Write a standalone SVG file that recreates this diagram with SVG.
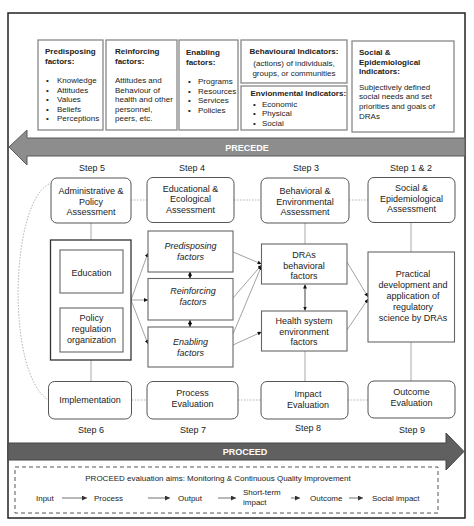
<svg xmlns="http://www.w3.org/2000/svg" width="474" height="526" viewBox="0 0 474 526">
<defs>
<style>
text{font-family:"Liberation Sans",Arial,sans-serif;fill:#222}
.s8{font-size:8px}
.s9{font-size:9px}
.b{font-weight:bold}
.i{font-style:italic}
.m{text-anchor:middle}
.tb{fill:#fff;stroke:#888;stroke-width:1.3}
.rb{fill:#fff;stroke:#555;stroke-width:1}
.fb{fill:#fff;stroke:#666;stroke-width:1.1}
.dl{fill:none;stroke:#aaa;stroke-width:0.9;stroke-dasharray:1.5 1.5}
.gl{fill:none;stroke:#aaa;stroke-width:1}
.al{fill:none;stroke:#999;stroke-width:0.9}
.ar{fill:none;stroke:#111;stroke-width:0.8}
.wt{fill:#fff;font-weight:bold;font-size:9px}
</style>
<marker id="ah" viewBox="0 0 6 6" refX="6" refY="3" markerWidth="4" markerHeight="4" markerUnits="userSpaceOnUse" orient="auto-start-reverse">
<path d="M0,0 L6,3 L0,6 z" fill="#111"/>
</marker>
<marker id="ah2" viewBox="0 0 6 6" refX="6" refY="3" markerWidth="5" markerHeight="5" markerUnits="userSpaceOnUse" orient="auto">
<path d="M0,0 L6,3 L0,6 z" fill="#333"/>
</marker>
</defs>
<rect width="474" height="526" fill="#fff"/>
<rect x="8" y="13" width="457" height="505" fill="#fff" stroke="#222" stroke-width="1.5"/>

<g id="top-predisposing">
<rect class="tb" x="38" y="40" width="65" height="90"/>
<text class="s8 b" x="45" y="54">Predisposing</text>
<text class="s8 b" x="45" y="64">factors:</text>
<text class="s8" x="46" y="83">•</text><text class="s8" x="57" y="83">Knowledge</text>
<text class="s8" x="46" y="92.5">•</text><text class="s8" x="57" y="92.5">Attitudes</text>
<text class="s8" x="46" y="102">•</text><text class="s8" x="57" y="102">Values</text>
<text class="s8" x="46" y="111.5">•</text><text class="s8" x="57" y="111.5">Beliefs</text>
<text class="s8" x="46" y="121">•</text><text class="s8" x="57" y="121">Perceptions</text>
</g>
<g id="top-reinforcing">
<rect class="tb" x="106" y="40" width="71" height="90"/>
<text class="s8 b" x="115" y="54">Reinforcing</text>
<text class="s8 b" x="115" y="64">factors:</text>
<text class="s8" x="115" y="83">Attitudes and</text>
<text class="s8" x="115" y="92.5">Behaviour of</text>
<text class="s8" x="115" y="102">health and other</text>
<text class="s8" x="115" y="111.5">personnel,</text>
<text class="s8" x="115" y="121">peers, etc.</text>
</g>
<g id="top-enabling">
<rect class="tb" x="179" y="40" width="59" height="90"/>
<text class="s8 b" x="186" y="55">Enabling</text>
<text class="s8 b" x="186" y="65">factors:</text>
<text class="s8" x="188" y="84">•</text><text class="s8" x="198" y="84">Programs</text>
<text class="s8" x="188" y="93.5">•</text><text class="s8" x="198" y="93.5">Resources</text>
<text class="s8" x="188" y="103">•</text><text class="s8" x="198" y="103">Services</text>
<text class="s8" x="188" y="112.5">•</text><text class="s8" x="198" y="112.5">Policies</text>
</g>
<g id="top-behavioural">
<rect class="tb" x="241" y="40" width="106" height="43"/>
<text class="s8 b m" x="294" y="53.5">Behavioural Indicators:</text>
<text class="s8 m" x="294" y="66">(actions) of individuals,</text>
<text class="s8 m" x="294" y="75.5">groups, or communities</text>
</g>
<g id="top-environmental">
<rect class="tb" x="241" y="86" width="106" height="44"/>
<text class="s8 b" x="250.5" y="96">Envionmental Indicators:</text>
<text class="s8" x="253" y="106.5">•</text><text class="s8" x="262" y="106.5">Economic</text>
<text class="s8" x="253" y="116">•</text><text class="s8" x="262" y="116">Physical</text>
<text class="s8" x="253" y="125.5">•</text><text class="s8" x="262" y="125.5">Social</text>
</g>
<g id="top-social">
<rect class="tb" x="352" y="41" width="102" height="91"/>
<text class="s8 b" x="359" y="54.5">Social &amp;</text>
<text class="s8 b" x="359" y="64.5">Epidemiological</text>
<text class="s8 b" x="359" y="74">Indicators:</text>
<text class="s8" x="359" y="89.5">Subjectively defined</text>
<text class="s8" x="359" y="99">social needs and set</text>
<text class="s8" x="359" y="108.7">priorities and goals of</text>
<text class="s8" x="359" y="118.5">DRAs</text>
</g>

<g id="precede-arrow">
<polygon points="465,138 27,138 27,130 9,147 27,165 27,156 465,156" fill="#8d8d8d" stroke="#5a5a5a" stroke-width="1"/>
<text class="wt m" x="247" y="150.5">PRECEDE</text>
</g>

<g id="step-labels">
<text class="s9 m" x="92" y="171">Step 5</text>
<text class="s9 m" x="192" y="171">Step 4</text>
<text class="s9 m" x="306" y="170.5">Step 3</text>
<text class="s9 m" x="411" y="170.5">Step 1 &amp; 2</text>
<text class="s9 m" x="91" y="432.5">Step 6</text>
<text class="s9 m" x="193" y="433">Step 7</text>
<text class="s9 m" x="308" y="431">Step 8</text>
<text class="s9 m" x="412" y="433">Step 9</text>
</g>

<g id="connectors">
<line class="dl" x1="131" y1="200" x2="147" y2="200"/>
<line class="dl" x1="234" y1="200" x2="261" y2="200"/>
<line class="dl" x1="349" y1="200" x2="368" y2="200"/>
<line class="dl" x1="132" y1="400" x2="147" y2="400"/>
<line class="dl" x1="238" y1="400" x2="261" y2="400"/>
<line class="dl" x1="348" y1="400" x2="368" y2="400"/>
<path class="dl" d="M49,184 C10,204 6,372 48,400"/>
<line class="gl" x1="91" y1="223" x2="91" y2="240"/>
<line class="gl" x1="91" y1="360" x2="91" y2="382"/>
<line class="gl" x1="305" y1="223" x2="305" y2="244"/>
<line class="gl" x1="411" y1="223" x2="411" y2="252"/>
<line class="gl" x1="305" y1="351" x2="305" y2="381"/>
<line class="gl" x1="411" y1="342" x2="411" y2="381"/>
<line class="al" x1="131" y1="300" x2="148" y2="253" marker-end="url(#ah)"/>
<line class="al" x1="131" y1="300" x2="148" y2="300" marker-end="url(#ah)"/>
<line class="al" x1="131" y1="300" x2="148" y2="344" marker-end="url(#ah)"/>
<line class="al" x1="233" y1="252" x2="261.5" y2="264" marker-end="url(#ah)"/>
<line class="al" x1="233" y1="298" x2="261.5" y2="265" marker-end="url(#ah)"/>
<line class="al" x1="233" y1="334" x2="261.5" y2="266" marker-end="url(#ah)"/>
<line class="al" x1="233" y1="345" x2="261.5" y2="332" marker-end="url(#ah)"/>
<line class="al" x1="347" y1="262" x2="368" y2="297" marker-end="url(#ah)"/>
<line class="al" x1="347" y1="330" x2="368" y2="299" marker-end="url(#ah)"/>
<line class="ar" x1="92" y1="293.5" x2="92" y2="307.5" marker-start="url(#ah)" marker-end="url(#ah)"/>
<line class="ar" x1="190" y1="271.5" x2="190" y2="278.5" marker-start="url(#ah)" marker-end="url(#ah)"/>
<line class="ar" x1="190" y1="320" x2="190" y2="327" marker-start="url(#ah)" marker-end="url(#ah)"/>
<line class="ar" x1="305" y1="284.5" x2="305" y2="310.5" marker-start="url(#ah)" marker-end="url(#ah)"/>
</g>

<g id="admin-assessment">
<rect class="rb" x="51" y="178" width="80" height="45" rx="6"/>
<text class="s9 m" x="91" y="194">Administrative &amp;</text>
<text class="s9 m" x="91" y="204.5">Policy</text>
<text class="s9 m" x="91" y="215">Assessment</text>
</g>
<g id="educational-assessment">
<rect class="rb" x="147" y="177.5" width="87" height="45" rx="6"/>
<text class="s9 m" x="190.5" y="191.5">Educational &amp;</text>
<text class="s9 m" x="190.5" y="202">Ecological</text>
<text class="s9 m" x="190.5" y="213">Assessment</text>
</g>
<g id="behavioral-assessment">
<rect class="rb" x="261" y="178" width="88" height="45" rx="6"/>
<text class="s9 m" x="305" y="194">Behavioral &amp;</text>
<text class="s9 m" x="305" y="204.5">Environmental</text>
<text class="s9 m" x="305" y="215">Assessment</text>
</g>
<g id="social-assessment">
<rect class="rb" x="368" y="177.5" width="87" height="45" rx="6"/>
<text class="s9 m" x="411.5" y="190.5">Social &amp;</text>
<text class="s9 m" x="411.5" y="201.5">Epidemiological</text>
<text class="s9 m" x="411.5" y="212">Assessment</text>
</g>

<g id="education-group">
<rect x="50.5" y="240" width="80.5" height="120" fill="#fff" stroke="#333" stroke-width="1.3"/>
</g>
<g id="education">
<rect class="fb" x="60" y="250" width="63" height="43"/>
<text class="s9 m" x="91.5" y="276">Education</text>
</g>
<g id="policy">
<rect class="fb" x="60" y="308" width="63" height="44"/>
<text class="s9 m" x="91.5" y="321">Policy</text>
<text class="s9 m" x="91.5" y="332">regulation</text>
<text class="s9 m" x="91.5" y="342.5">organization</text>
</g>

<g id="predisposing-factors">
<rect class="fb" x="148" y="231" width="85" height="41"/>
<text class="s9 m i" x="190.5" y="249">Predisposing</text>
<text class="s9 m i" x="190.5" y="260">factors</text>
</g>
<g id="reinforcing-factors">
<rect class="fb" x="148" y="278.5" width="85" height="41.5"/>
<text class="s9 m i" x="193" y="294">Reinforcing</text>
<text class="s9 m i" x="193" y="304.5">factors</text>
</g>
<g id="enabling-factors">
<rect class="fb" x="148" y="327" width="85" height="40"/>
<text class="s9 m i" x="190.5" y="345">Enabling</text>
<text class="s9 m i" x="190.5" y="356">factors</text>
</g>

<g id="dras-behavioral">
<rect class="fb" x="261.5" y="244" width="85.5" height="40"/>
<text class="s9 m" x="304" y="258">DRAs</text>
<text class="s9 m" x="304" y="268.5">behavioral</text>
<text class="s9 m" x="304" y="279">factors</text>
</g>
<g id="health-system">
<rect class="fb" x="261.5" y="311" width="85.5" height="40"/>
<text class="s9 m" x="304" y="324">Health system</text>
<text class="s9 m" x="304" y="334.5">environment</text>
<text class="s9 m" x="304" y="345">factors</text>
</g>
<g id="practical">
<rect class="fb" x="368" y="252" width="86.5" height="90"/>
<text class="s9 m" x="413" y="276.5">Practical</text>
<text class="s9 m" x="413" y="287.5">development and</text>
<text class="s9 m" x="413" y="298.5">application of</text>
<text class="s9 m" x="413" y="309.5">regulatory</text>
<text class="s9 m" x="413" y="320.5">science by DRAs</text>
</g>

<g id="implementation">
<rect class="rb" x="48.5" y="381.5" width="83" height="37.5" rx="6"/>
<text class="s9 m" x="90" y="402.5">Implementation</text>
</g>
<g id="process-evaluation">
<rect class="rb" x="147" y="381.5" width="91" height="37.5" rx="6"/>
<text class="s9 m" x="192.5" y="396">Process</text>
<text class="s9 m" x="192.5" y="407">Evaluation</text>
</g>
<g id="impact-evaluation">
<rect class="rb" x="261" y="381.5" width="87" height="37.5" rx="6"/>
<text class="s9 m" x="308" y="397">Impact</text>
<text class="s9 m" x="308" y="408">Evaluation</text>
</g>
<g id="outcome-evaluation">
<rect class="rb" x="368" y="381" width="87" height="37" rx="6"/>
<text class="s9 m" x="411.5" y="395">Outcome</text>
<text class="s9 m" x="411.5" y="406">Evaluation</text>
</g>

<g id="proceed-arrow">
<polygon points="8,443 446,443 446,433 464,451.5 446,470 446,460 8,460" fill="#606060" stroke="#444" stroke-width="1"/>
<text class="wt m" x="245" y="454.5">PROCEED</text>
</g>

<g id="proceed-aims">
<rect x="15" y="467" width="423" height="46" fill="none" stroke="#555" stroke-width="1" stroke-dasharray="4 3"/>
<text class="s8 m" x="218" y="481">PROCEED evaluation aims: Monitoring &amp; Continuous Quality Improvement</text>
<text class="s8" x="36" y="501">Input</text>
<line x1="62" y1="498" x2="87" y2="498" stroke="#333" stroke-width="0.7" marker-end="url(#ah2)"/>
<text class="s8" x="94" y="501">Process</text>
<line x1="148" y1="498" x2="170" y2="498" stroke="#333" stroke-width="0.7" marker-end="url(#ah2)"/>
<text class="s8" x="178" y="501">Output</text>
<line x1="218" y1="498" x2="236" y2="498" stroke="#333" stroke-width="0.7" marker-end="url(#ah2)"/>
<text class="s8" x="243" y="494.5">Short-term</text>
<text class="s8" x="243" y="505">impact</text>
<line x1="291" y1="498" x2="300" y2="498" stroke="#333" stroke-width="0.7" marker-end="url(#ah2)"/>
<text class="s8" x="310" y="501">Outcome</text>
<line x1="349" y1="498" x2="363" y2="498" stroke="#333" stroke-width="0.7" marker-end="url(#ah2)"/>
<text class="s8" x="372" y="501">Social impact</text>
</g>
</svg>
